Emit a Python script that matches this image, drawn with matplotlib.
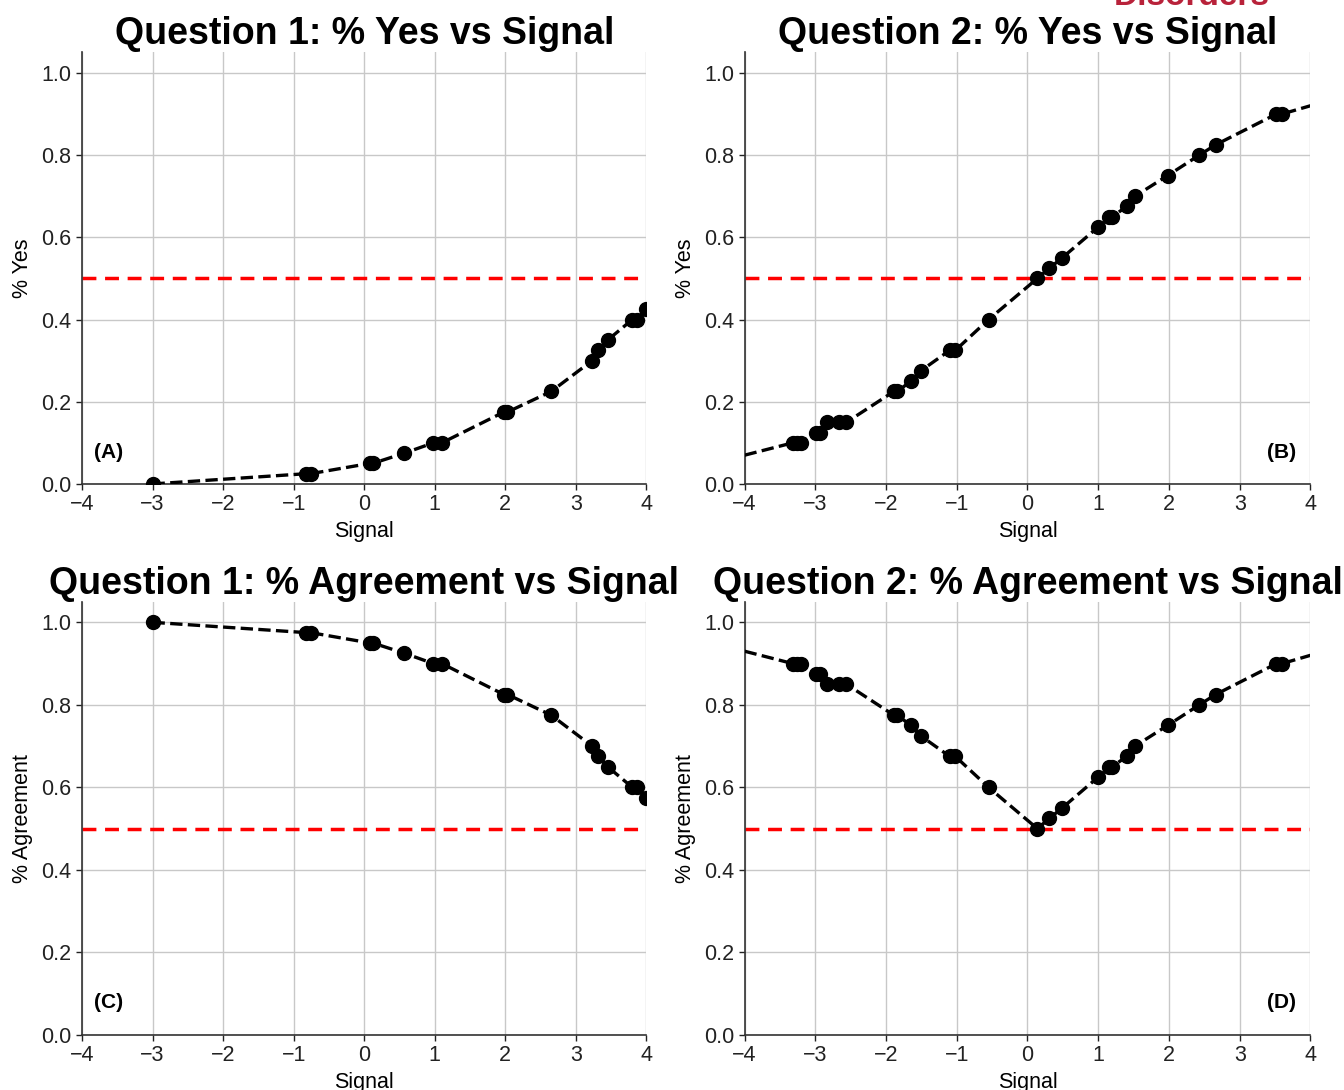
import matplotlib
matplotlib.use('Agg')
import matplotlib.pyplot as plt

plt.rcParams['font.family'] = ['Liberation Sans', 'DejaVu Sans']

# Question 1 responses
q1_signal = [-3.0, -0.82, -0.76, 0.08, 0.12, 0.57, 0.98, 1.1, 1.98, 2.03, 2.65,
             3.23, 3.32, 3.45, 3.8, 3.86, 4.0]
q1_yes = [0.0, 0.025, 0.025, 0.05, 0.05, 0.075, 0.1, 0.1, 0.175, 0.175, 0.225,
          0.3, 0.325, 0.35, 0.4, 0.4, 0.425]
q1_agree = [1.0, 0.975, 0.975, 0.95, 0.95, 0.925, 0.9, 0.9, 0.825, 0.825, 0.775,
            0.7, 0.675, 0.65, 0.6, 0.6, 0.575]

# Question 2 responses
q2_signal = [-3.32, -3.26, -3.2, -2.99, -2.94, -2.83, -2.66, -2.56, -1.89, -1.84,
             -1.65, -1.51, -1.1, -1.02, -0.55, 0.14, 0.31, 0.49, 1.0, 1.15, 1.2,
             1.4, 1.52, 1.98, 2.43, 2.66, 3.52, 3.6]
q2_yes = [0.1, 0.1, 0.1, 0.125, 0.125, 0.15, 0.15, 0.15, 0.225, 0.225,
          0.25, 0.275, 0.325, 0.325, 0.4, 0.5, 0.525, 0.55, 0.625, 0.65, 0.65,
          0.675, 0.7, 0.75, 0.8, 0.825, 0.9, 0.9]
q2_agree = [0.9, 0.9, 0.9, 0.875, 0.875, 0.85, 0.85, 0.85, 0.775, 0.775,
            0.75, 0.725, 0.675, 0.675, 0.6, 0.5, 0.525, 0.55, 0.625, 0.65, 0.65,
            0.675, 0.7, 0.75, 0.8, 0.825, 0.9, 0.9]

# where the dashed fit line meets the plot edges (x = -4 and x = 4)
edge_x = [-4.0, 4.0]
q2_yes_edges = [0.07, 0.92]
q2_agree_edges = [0.93, 0.92]

x_ticks = [-4, -3, -2, -1, 0, 1, 2, 3, 4]
y_ticks = [0.0, 0.2, 0.4, 0.6, 0.8, 1.0]


def style_axis(ax, title, ylabel, label, label_right):
    ax.set_xlim(-4, 4)
    ax.set_ylim(0, 1.05)
    ax.set_xticks(x_ticks)
    ax.set_xticklabels(['\u22124', '\u22123', '\u22122', '\u22121', '0', '1', '2', '3', '4'])
    ax.set_yticks(y_ticks)
    ax.set_yticklabels([f'{v:.1f}' for v in y_ticks])
    ax.tick_params(labelsize=15.5, length=4, width=1, colors='#222222')
    ax.grid(True, color='#c8c8c8', lw=1)
    ax.set_axisbelow(True)
    for side in ['top', 'right']:
        ax.spines[side].set_visible(False)
    for side in ['left', 'bottom']:
        ax.spines[side].set_color('#333333')
        ax.spines[side].set_linewidth(1.2)
    ax.axhline(0.5, color='red', ls=(0, (4, 2.5)), lw=2.5, zorder=2)
    ax.set_title(title, fontsize=27, fontweight='bold', pad=5)
    ax.set_xlabel('Signal', fontsize=15.5, labelpad=4)
    ax.set_ylabel(ylabel, fontsize=15.5, labelpad=6)
    if label_right:
        ax.text(0.975, 0.074, label, transform=ax.transAxes, ha='right', va='center',
                fontsize=15, fontweight='bold')
    else:
        ax.text(0.022, 0.074, label, transform=ax.transAxes, ha='left', va='center',
                fontsize=15, fontweight='bold')


def draw_series(ax, xs, ys, line_x, line_y):
    ax.plot(line_x, line_y, color='black', ls='--', lw=2.4, zorder=3)
    ax.plot(xs, ys, 'o', color='black', ms=10, zorder=4)


fig = plt.figure(figsize=(13.44, 10.9), dpi=100)
ax_a = fig.add_axes([0.061, 0.556, 0.420, 0.396])
ax_b = fig.add_axes([0.554, 0.556, 0.421, 0.396])
ax_c = fig.add_axes([0.061, 0.0505, 0.420, 0.3975])
ax_d = fig.add_axes([0.554, 0.0505, 0.421, 0.3975])

draw_series(ax_a, q1_signal, q1_yes, q1_signal, q1_yes)
style_axis(ax_a, 'Question 1: % Yes vs Signal', '% Yes', '(A)', False)

draw_series(ax_b, q2_signal, q2_yes,
            [edge_x[0]] + q2_signal + [edge_x[1]],
            [q2_yes_edges[0]] + q2_yes + [q2_yes_edges[1]])
style_axis(ax_b, 'Question 2: % Yes vs Signal', '% Yes', '(B)', True)

draw_series(ax_c, q1_signal, q1_agree, q1_signal, q1_agree)
style_axis(ax_c, 'Question 1: % Agreement vs Signal', '% Agreement', '(C)', False)

draw_series(ax_d, q2_signal, q2_agree,
            [edge_x[0]] + q2_signal + [edge_x[1]],
            [q2_agree_edges[0]] + q2_agree + [q2_agree_edges[1]])
style_axis(ax_d, 'Question 2: % Agreement vs Signal', '% Agreement', '(D)', True)

# cut-off logo text at the top edge, as in the source image
fig.text(0.945, 0.989, 'Disorders', ha='right', va='bottom', fontsize=24,
         fontweight='bold', color='#b8223a')

fig.savefig('out.png', dpi=100)
